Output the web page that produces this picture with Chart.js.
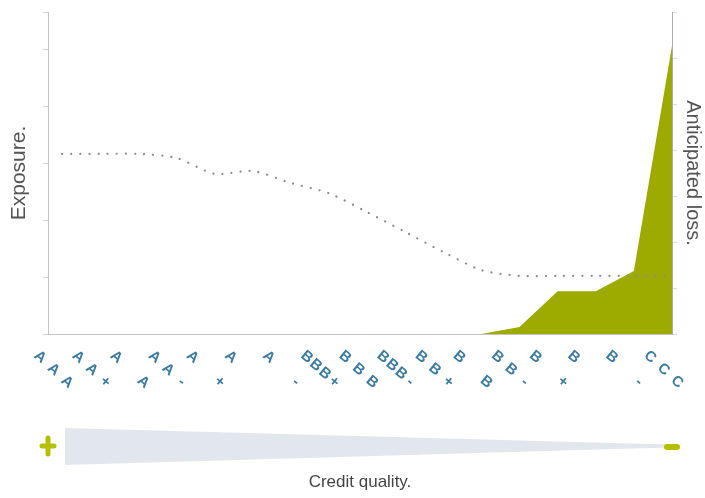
<!DOCTYPE html>
<html>
<head>
<meta charset="utf-8">
<title>Exposure and anticipated loss by credit quality</title>
<script src="https://cdn.jsdelivr.net/npm/chart.js@4"></script>
<style>
  html, body { margin: 0; padding: 0; background: #fff; }
  canvas { display: block; }
</style>
</head>
<body>
<canvas id="chart" width="705" height="498"></canvas>
<script>
// Rating buckets along the x axis, best to worst
const RATINGS = ['AAA', 'AA+', 'AA', 'AA-', 'A+', 'A', 'A-', 'BBB+', 'BBB', 'BBB-',
  'BB+', 'BB', 'BB-', 'B+', 'B', 'B-', 'CCC'];

// Exposure per bucket (left axis, arbitrary units)
const EXPOSURE = [3.16, 3.16, 3.16, 3.09, 2.81, 2.86, 2.65, 2.47, 2.14, 1.79,
  1.44, 1.12, 1.02, 1.02, 1.02, 1.02, 1.02];

// Anticipated loss per bucket (right axis, arbitrary units)
const LOSS = [0, 0, 0, 0, 0, 0, 0, 0, 0, 0, 0, 0, 0.15, 0.93, 0.93, 1.37, 6.26];

const OLIVE = '#9dab00';
const LABEL_COLOR = '#3b7ca4';
const FONT = '"Liberation Sans", Arial, sans-serif';

const toPoints = (values) => values.map((v, i) => ({ x: i, y: v }));

/**
 * Draws the rating labels (one glyph at a time, spread on a diagonal)
 * and the credit-quality wedge under the axis.
 */
const ratingLabels = {
  id: 'ratingLabels',
  afterDraw(chart) {
    const { ctx, chartArea, scales: { x } } = chart;
    ctx.save();
    ctx.fillStyle = LABEL_COLOR;
    ctx.font = `600 15px ${FONT}`;
    ctx.textAlign = 'center';
    ctx.textBaseline = 'middle';
    RATINGS.forEach((label, i) => {
      const chars = [...label];
      const x0 = x.getPixelForValue(i) - 22;
      const y0 = chartArea.bottom + 23;
      chars.forEach((ch, j) => {
        const t = chars.length > 1 ? j / (chars.length - 1) : 0;
        ctx.save();
        ctx.translate(x0 + t * 27, y0 + t * 25);
        ctx.rotate(Math.PI / 4.5);
        ctx.fillText(ch, 0, 0);
        ctx.restore();
      });
    });

    // wedge: wide at the good end, tapering towards the bad end
    const left = chartArea.left + 17;
    const right = chartArea.right - 4;
    const mid = chartArea.bottom + 112;
    ctx.fillStyle = '#e2e7ed';
    ctx.beginPath();
    ctx.moveTo(left, mid - 18);
    ctx.lineTo(right, mid - 1.5);
    ctx.lineTo(right, mid + 1.5);
    ctx.lineTo(left, mid + 19);
    ctx.closePath();
    ctx.fill();

    // plus / minus markers
    ctx.strokeStyle = '#b5bf00';
    ctx.lineCap = 'round';
    ctx.lineWidth = 5;
    const px = chartArea.left;
    ctx.beginPath();
    ctx.moveTo(px, mid - 8);
    ctx.lineTo(px, mid + 8);
    ctx.moveTo(px - 6, mid);
    ctx.lineTo(px + 6, mid);
    ctx.stroke();
    ctx.lineWidth = 6;
    ctx.beginPath();
    ctx.moveTo(chartArea.right - 5, mid + 1);
    ctx.lineTo(chartArea.right + 5, mid + 1);
    ctx.stroke();
    ctx.restore();
  }
};

new Chart(document.getElementById('chart'), {
  type: 'line',
  data: {
    datasets: [
      {
        label: 'Exposure',
        data: toPoints(EXPOSURE),
        yAxisID: 'y',
        borderColor: '#8c8c8c',
        borderWidth: 2.2,
        borderDash: [0.1, 9],
        borderCapStyle: 'round',
        tension: 0.25,
        pointRadius: 0,
        fill: false,
        order: 0,
      },
      {
        label: 'Anticipated loss',
        data: toPoints(LOSS),
        yAxisID: 'y1',
        borderWidth: 0,
        backgroundColor: OLIVE,
        pointRadius: 0,
        tension: 0,
        fill: 'origin',
        order: 1,
      },
    ],
  },
  options: {
    responsive: false,
    animation: false,
    layout: { padding: { top: 12, left: 0, right: 0, bottom: 0 } },
    plugins: {
      legend: { display: false },
      tooltip: { enabled: false },
    },
    scales: {
      x: {
        type: 'linear',
        min: -0.37,
        max: RATINGS.length - 1,
        ticks: { display: false },
        grid: { display: false },
        border: { display: true, color: '#c4c4c4', dash: [1, 3] },
        title: {
          display: true,
          text: 'Credit quality.',
          color: '#454545',
          font: { size: 17, family: FONT },
          padding: { top: 0, bottom: 5 },
        },
        afterFit: (s) => { s.height = 164; },
      },
      y: {
        position: 'left',
        min: 0,
        max: 5.65,
        ticks: { display: false, stepSize: 1 },
        grid: { drawOnChartArea: false, tickLength: 5, color: '#d4d4d4' },
        border: { display: true, color: '#c4c4c4', dash: [1, 3] },
        title: {
          display: true,
          text: 'Exposure.',
          color: '#555',
          font: { size: 21, family: FONT },
          padding: { top: 7, bottom: 0 },
        },
        afterFit: (s) => { s.width = 48; },
      },
      y1: {
        position: 'right',
        min: 0,
        max: 7,
        ticks: { display: false, stepSize: 1 },
        grid: { drawOnChartArea: false, tickLength: 5, color: '#d8dce4' },
        border: { display: true, color: '#a4adbd', dash: [1, 3] },
        title: {
          display: true,
          text: 'Anticipated loss.',
          color: '#555',
          font: { size: 20, family: FONT },
          padding: { top: 0, bottom: 0 },
        },
        afterFit: (s) => { s.width = 33; },
      },
    },
  },
  plugins: [ratingLabels],
});
</script>
</body>
</html>
